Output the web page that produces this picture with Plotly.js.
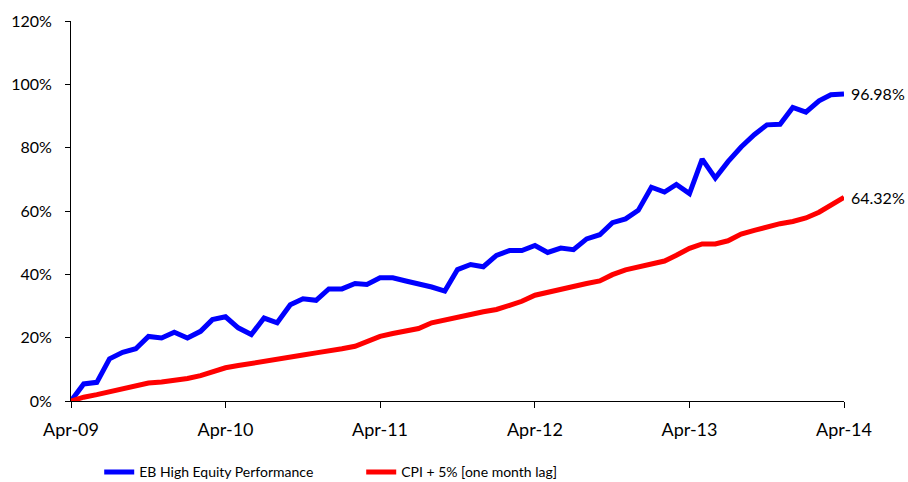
<!DOCTYPE html>
<html>
<head>
<meta charset="utf-8">
<script src="https://cdn.plot.ly/plotly-3.0.1.min.js"></script>
<style>html,body{margin:0;padding:0;background:#fff;}#chart{width:908px;height:482px;}</style>
</head>
<body>
<div id="chart"></div>
<script>
var months = [
 '2009-04-01','2009-05-01','2009-06-01','2009-07-01','2009-08-01','2009-09-01','2009-10-01','2009-11-01','2009-12-01',
 '2010-01-01','2010-02-01','2010-03-01','2010-04-01','2010-05-01','2010-06-01','2010-07-01','2010-08-01','2010-09-01',
 '2010-10-01','2010-11-01','2010-12-01','2011-01-01','2011-02-01','2011-03-01','2011-04-01','2011-05-01','2011-06-01',
 '2011-07-01','2011-08-01','2011-09-01','2011-10-01','2011-11-01','2011-12-01','2012-01-01','2012-02-01','2012-03-01',
 '2012-04-01','2012-05-01','2012-06-01','2012-07-01','2012-08-01','2012-09-01','2012-10-01','2012-11-01','2012-12-01',
 '2013-01-01','2013-02-01','2013-03-01','2013-04-01','2013-05-01','2013-06-01','2013-07-01','2013-08-01','2013-09-01',
 '2013-10-01','2013-11-01','2013-12-01','2014-01-01','2014-02-01','2014-03-01','2014-04-01'
];
var ebHighEquity = [
 0.0, 5.4, 5.9, 13.3, 15.4, 16.5, 20.4, 19.9, 21.7, 19.9, 22.0, 25.7, 26.6,
 23.1, 21.0, 26.2, 24.7, 30.4, 32.3, 31.8, 35.4, 35.4, 37.1, 36.8, 38.9,
 38.9, 37.9, 37.0, 36.0, 34.7, 41.5, 43.1, 42.4, 46.0, 47.5, 47.5, 49.1,
 46.9, 48.3, 47.8, 51.2, 52.5, 56.3, 57.5, 60.2, 67.5, 66.0, 68.4, 65.5,
 76.4, 70.4, 75.6, 80.2, 84.1, 87.2, 87.4, 92.7, 91.2, 94.8, 96.7, 96.98
];
var cpiPlus5 = [
 0.0, 1.2, 2.0, 2.9, 4.2, 4.9, 5.7, 6.0, 6.5, 7.1, 8.0, 9.2, 10.5,
 11.2, 11.8, 12.4, 13.3, 13.8, 14.5, 15.2, 15.7, 16.5, 17.3, 18.6, 20.4,
 21.3, 22.0, 22.9, 24.7, 25.5, 26.2, 27.3, 28.2, 28.9, 30.2, 31.5, 33.4,
 34.4, 35.2, 36.2, 37.1, 37.9, 39.9, 41.4, 42.3, 43.3, 44.2, 46.0, 48.2,
 49.6, 49.6, 50.6, 52.7, 53.9, 55.1, 56.0, 56.7, 57.8, 59.6, 61.8, 64.32
];
var seriesNames = ['EB High Equity Performance', 'CPI + 5% [one month lag]'];
var xTickVals = ['2009-04-01','2010-04-01','2011-04-01','2012-04-01','2013-04-01','2014-04-01'];
var xTickText = ['Apr-09','Apr-10','Apr-11','Apr-12','Apr-13','Apr-14'];
var yTickVals = [0, 20, 40, 60, 80, 100, 120];
var yTickText = ['0%','20%','40%','60%','80%','100%','120%'];
var endLabels = ['96.98%', '64.32%'];

var fam = 'Lato, "Open Sans", sans-serif';
var traces = [
  {x: months, y: ebHighEquity, name: seriesNames[0], type: 'scatter', mode: 'lines',
   line: {color: '#0000FF', width: 5}},
  {x: months, y: cpiPlus5, name: seriesNames[1], type: 'scatter', mode: 'lines',
   line: {color: '#FF0000', width: 5}}
];
var last = months.length - 1;
var layout = {
  width: 908, height: 482,
  margin: {l: 71, r: 64, t: 21, b: 80.5},
  paper_bgcolor: '#fff', plot_bgcolor: '#fff',
  font: {family: fam, size: 16, color: '#000'},
  showlegend: true,
  xaxis: {
    type: 'date', range: [months[0], months[last]],
    tickvals: xTickVals, ticktext: xTickText,
    showgrid: false, zeroline: false,
    showline: true, linecolor: '#000', linewidth: 1,
    ticks: 'outside', ticklen: 6, tickcolor: '#000', tickwidth: 1,
    tickfont: {family: fam, size: 18, color: '#000'},
    ticklabelstandoff: 6
  },
  yaxis: {
    range: [0, 120], tickvals: yTickVals, ticktext: yTickText,
    showgrid: false, zeroline: false,
    showline: true, linecolor: '#000', linewidth: 1,
    ticks: 'outside', ticklen: 5, tickcolor: '#000', tickwidth: 1,
    tickfont: {family: fam, size: 16, color: '#000'},
    ticklabelstandoff: 10
  },
  legend: {
    orientation: 'h', x: 0.0365, xanchor: 'left',
    yref: 'container', y: 0.02, yanchor: 'middle',
    entrywidth: 217, entrywidthmode: 'pixels',
    font: {family: fam, size: 14, color: '#000'},
    itemwidth: 30, tracegroupgap: 0
  },
  annotations: [
    {x: months[last], y: ebHighEquity[last], text: endLabels[0], showarrow: false,
     xanchor: 'left', yanchor: 'middle', xshift: 5, font: {family: fam, size: 16, color: '#000'}},
    {x: months[last], y: cpiPlus5[last], text: endLabels[1], showarrow: false,
     xanchor: 'left', yanchor: 'middle', xshift: 5, font: {family: fam, size: 16, color: '#000'}}
  ]
};
Plotly.newPlot('chart', traces, layout, {displayModeBar: false, staticPlot: true});
</script>
</body>
</html>
